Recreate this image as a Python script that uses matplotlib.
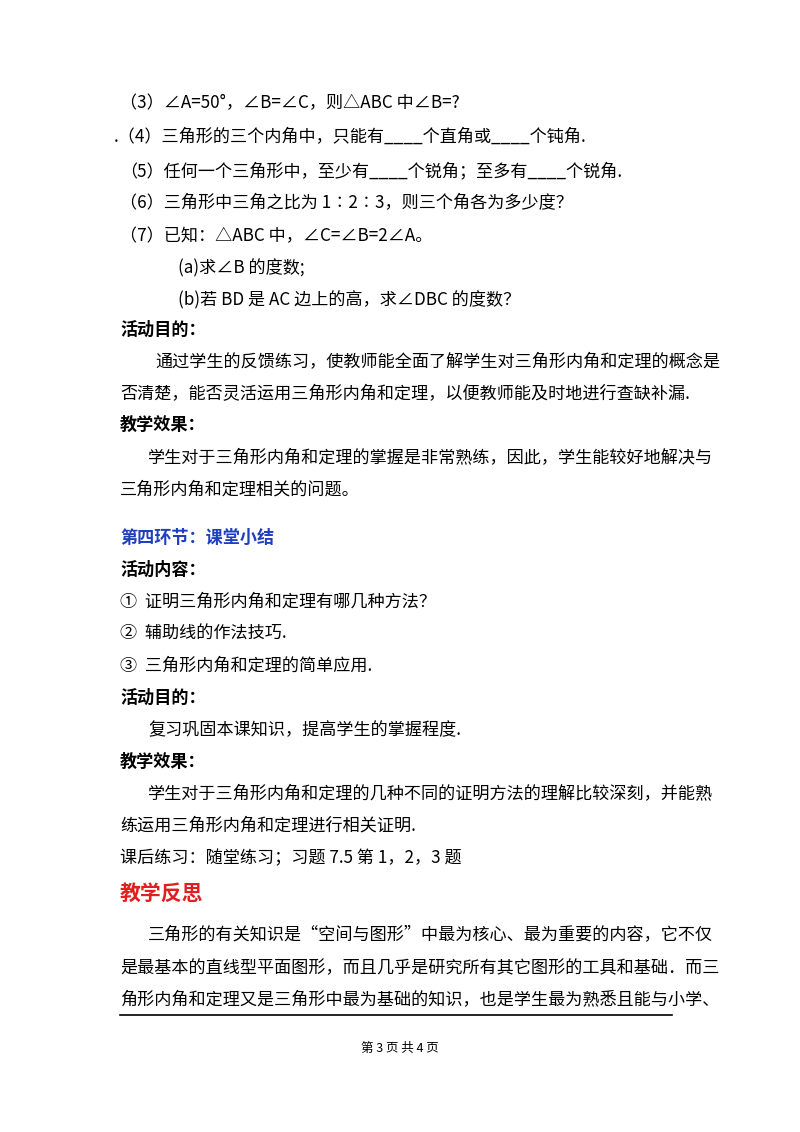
import matplotlib
matplotlib.use("Agg")
import matplotlib.pyplot as plt

plt.rcParams['font.family'] = ['Noto Sans CJK SC', 'DejaVu Sans']

W, H = 800, 1132
lines = [
    (120, 103, "（3）∠A=50°，∠B=∠C，则△ABC 中∠B=?", "k", "normal", 12.3),
    (114, 137, ".（4）三角形的三个内角中，只能有____个直角或____个钝角.", "k", "normal", 12.3),
    (120, 171, "（5）任何一个三角形中，至少有____个锐角；至多有____个锐角.", "k", "normal", 12.3),
    (120, 203, "（6）三角形中三角之比为 1∶2∶3，则三个角各为多少度？", "k", "normal", 12.3),
    (120, 236, "（7）已知：△ABC 中，∠C=∠B=2∠A。", "k", "normal", 12.3),
    (178, 268, "(a)求∠B 的度数;", "k", "normal", 12.3),
    (178, 300, "(b)若 BD 是 AC 边上的高，求∠DBC 的度数？", "k", "normal", 12.3),
    (120, 330, "活动目的：", "k", "bold", 12.3),
    (155, 362, "通过学生的反馈练习，使教师能全面了解学生对三角形内角和定理的概念是", "k", "normal", 12.3),
    (120, 394, "否清楚，能否灵活运用三角形内角和定理，以便教师能及时地进行查缺补漏.", "k", "normal", 12.3),
    (120, 425, "教学效果：", "k", "bold", 12.3),
    (148, 458, "学生对于三角形内角和定理的掌握是非常熟练，因此，学生能较好地解决与", "k", "normal", 12.3),
    (120, 490, "三角形内角和定理相关的问题。", "k", "normal", 12.3),
    (120, 538, "第四环节：课堂小结", "#1f3fbf", "bold", 12.3),
    (120, 570, "活动内容：", "k", "bold", 12.3),
    (120, 602, "①  证明三角形内角和定理有哪几种方法？", "k", "normal", 12.3),
    (120, 634, "②  辅助线的作法技巧.", "k", "normal", 12.3),
    (120, 666, "③  三角形内角和定理的简单应用.", "k", "normal", 12.3),
    (120, 698, "活动目的：", "k", "bold", 12.3),
    (148, 730, "复习巩固本课知识，提高学生的掌握程度.", "k", "normal", 12.3),
    (120, 762, "教学效果：", "k", "bold", 12.3),
    (148, 794, "学生对于三角形内角和定理的几种不同的证明方法的理解比较深刻，并能熟", "k", "normal", 12.3),
    (120, 826, "练运用三角形内角和定理进行相关证明.", "k", "normal", 12.3),
    (120, 858, "课后练习：随堂练习；习题 7.5 第 1，2，3 题", "k", "normal", 12.3),
    (120, 893, "教学反思", "#e02020", "bold", 15),
    (148, 935, "三角形的有关知识是“空间与图形”中最为核心、最为重要的内容，它不仅", "k", "normal", 12.3),
    (120, 968, "是最基本的直线型平面图形，而且几乎是研究所有其它图形的工具和基础．而三", "k", "normal", 12.3),
    (120, 1000, "角形内角和定理又是三角形中最为基础的知识，也是学生最为熟悉且能与小学、", "k", "normal", 12.3),
]

fig = plt.figure(figsize=(W/100, H/100), dpi=100)
fig.patch.set_facecolor("white")
for x, y, s, c, w, fs in lines:
    fig.text(x/W, 1-y/H, s, color=c, fontweight=w, fontsize=fs, va="center", ha="left")
fig.add_artist(plt.Line2D([120/W, 672/W], [1-1015/H, 1-1015/H], color="k", lw=1.2))
fig.text(400/W, 1-1048/H, "第 3 页 共 4 页", fontsize=9, ha="center", va="center")
fig.savefig("out.png", dpi=100, facecolor="white")
